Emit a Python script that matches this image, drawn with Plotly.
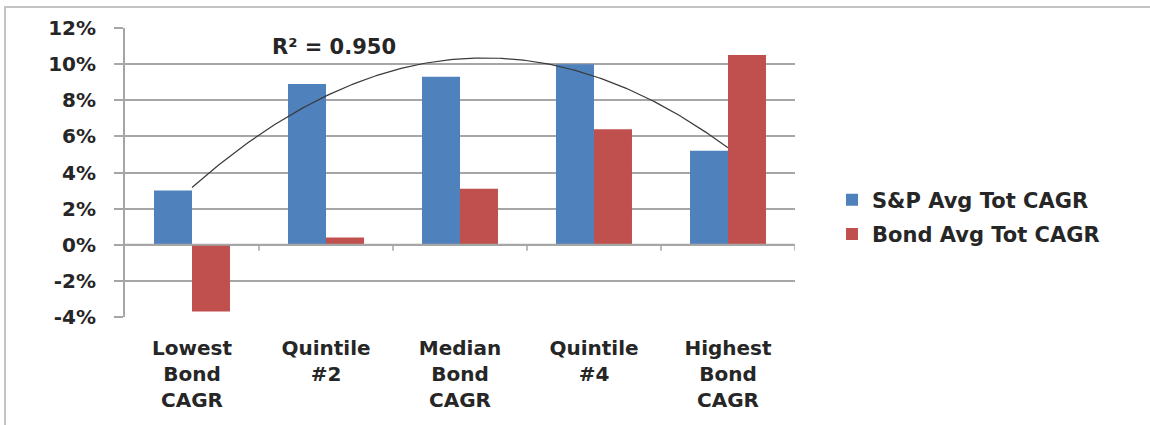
import numpy as np
import plotly.graph_objects as go

# Category labels (bond CAGR quintiles)
categories = [
    "Lowest<br>Bond<br>CAGR",
    "Quintile<br>#2",
    "Median<br>Bond<br>CAGR",
    "Quintile<br>#4",
    "Highest<br>Bond<br>CAGR",
]

# Average total CAGR per quintile, in percent
sp_cagr = [3.0, 8.9, 9.3, 10.0, 5.2]
bond_cagr = [-3.7, 0.4, 3.1, 6.4, 10.5]

series_names = ["S&P Avg Tot CAGR", "Bond Avg Tot CAGR"]
series_colors = ["#4f81bd", "#c0504d"]

# Y axis ticks
ytick_vals = [-4, -2, 0, 2, 4, 6, 8, 10, 12]
ytick_text = [f"{v}%" for v in ytick_vals]

r_squared_label = "R² = 0.950"

x_pos = np.arange(len(categories))

# Second-order polynomial trendline through the S&P series
coef = np.polyfit(x_pos, sp_cagr, 2)
trend_x = np.linspace(x_pos[0], x_pos[-1], 200)
trend_y = np.polyval(coef, trend_x)

FONT = "DejaVu Sans"
TEXT_COLOR = "#262626"
GRID = "#a6a6a6"

fig = go.Figure()
for name, vals, col in zip(series_names, [sp_cagr, bond_cagr], series_colors):
    fig.add_trace(go.Bar(
        x=x_pos, y=vals, name=name, marker=dict(color=col, line=dict(width=0)),
        legendgroup=name,
    ))

fig.add_trace(go.Scatter(
    x=trend_x, y=trend_y, mode="lines", showlegend=False,
    line=dict(color="#3a3a3a", width=1.2), hoverinfo="skip",
))

shapes = []
# horizontal axis line at zero
shapes.append(dict(type="line", xref="paper", yref="y", x0=0, x1=1, y0=0, y1=0,
                   line=dict(color=GRID, width=2)))
# tick marks at category boundaries on the zero line
for i in x_pos:
    shapes.append(dict(type="line", xref="x", yref="paper",
                       x0=i + 0.5, x1=i + 0.5, y0=0.25, y1=0.25 - 6 / 289,
                       line=dict(color=GRID, width=1.5)))
# outer chart frame
shapes.append(dict(type="rect", xref="paper", yref="paper",
                   x0=(5 - 125) / 670, x1=(1160 - 125) / 670,
                   y0=(317 - 440) / 289, y1=(317 - 7) / 289,
                   line=dict(color="#c4c4c4", width=2), fillcolor="rgba(0,0,0,0)",
                   layer="below"))

fig.update_layout(
    width=1150, height=425,
    margin=dict(l=125, r=355, t=28, b=108),
    paper_bgcolor="white", plot_bgcolor="white",
    barmode="group", bargap=0.433, bargroupgap=0,
    font=dict(family=FONT, color=TEXT_COLOR),
    shapes=shapes,
    legend=dict(
        x=(832 - 125) / 670, y=(317 - 217) / 289, xanchor="left", yanchor="middle",
        font=dict(family=FONT, size=21, color=TEXT_COLOR, weight="bold"),
        traceorder="grouped", tracegroupgap=4, bgcolor="rgba(0,0,0,0)",
    ),
    xaxis=dict(
        range=[-0.5, len(categories) - 0.5],
        tickmode="array", tickvals=x_pos, ticktext=categories,
        showgrid=False, zeroline=False, showline=False, ticks="",
        tickfont=dict(family=FONT, size=20, color=TEXT_COLOR, weight="bold"),
        ticklabelstandoff=17,
    ),
    yaxis=dict(
        range=[-4, 12],
        tickmode="array", tickvals=ytick_vals, ticktext=ytick_text,
        showgrid=True, gridcolor=GRID, gridwidth=1.5,
        zeroline=False, showline=True, linecolor=GRID, linewidth=2,
        ticks="outside", ticklen=9, tickcolor=GRID, tickwidth=1.5,
        tickfont=dict(family=FONT, size=20, color=TEXT_COLOR, weight="bold"),
        ticklabelstandoff=14,
    ),
    annotations=[dict(
        text=r_squared_label, xref="paper", yref="paper",
        x=(334 - 125) / 670, y=(317 - 47) / 289, xanchor="center", yanchor="middle",
        showarrow=False, font=dict(family=FONT, size=21, color=TEXT_COLOR, weight="bold"),
    )],
)

fig.write_html("out.html")
